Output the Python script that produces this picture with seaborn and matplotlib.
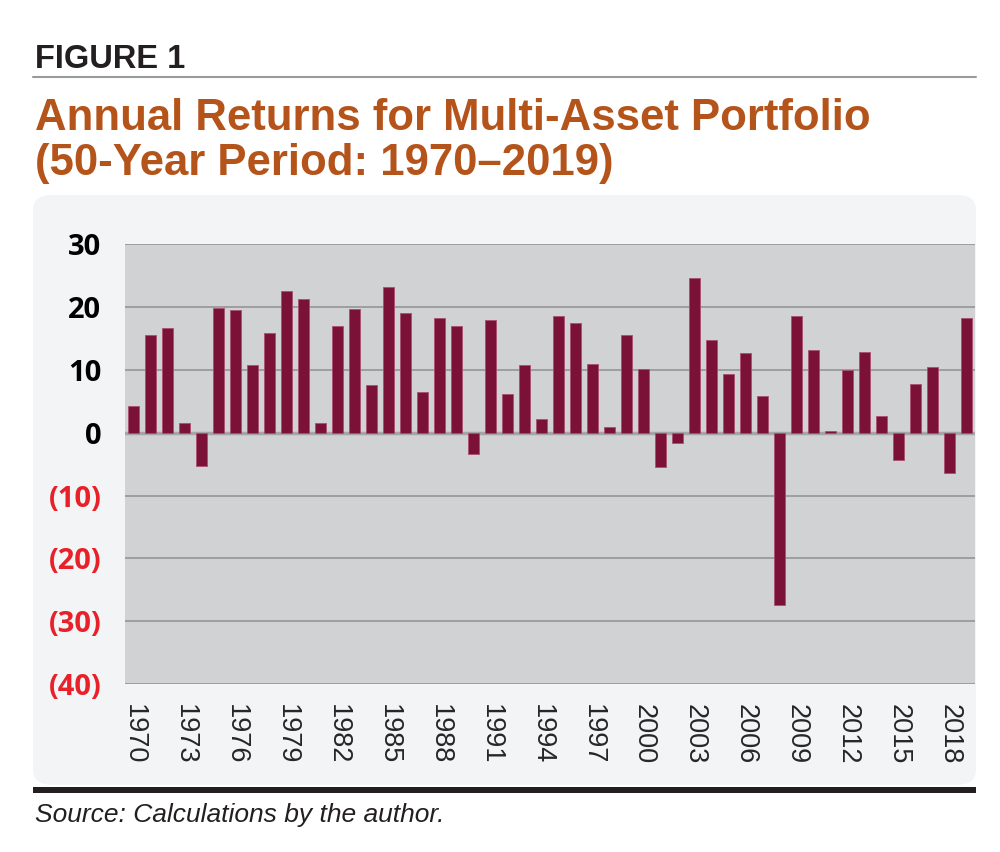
import matplotlib
matplotlib.use("Agg")
import matplotlib.pyplot as plt
from matplotlib.patches import FancyBboxPatch, Rectangle
from matplotlib.lines import Line2D
import seaborn as sns

# ----------------------------
# DATA
# ----------------------------
years = list(range(1970, 2020))
returns = [4.3, 15.5, 16.7, 1.5, -5.3, 19.8, 19.5, 10.7, 15.9, 22.6,
           21.3, 1.5, 16.9, 19.6, 7.6, 23.2, 19.1, 6.5, 18.2, 17.0,
           -3.4, 17.9, 6.2, 10.7, 2.2, 18.6, 17.4, 10.9, 0.9, 15.5,
           10.1, -5.5, -1.7, 24.6, 14.7, 9.4, 12.7, 5.8, -27.4, 18.6,
           13.1, 0.3, 9.9, 12.8, 2.6, -4.4, 7.7, 10.5, -6.4, 18.2]
y_ticks = [30, 20, 10, 0, -10, -20, -30, -40]
y_labels = ["30", "20", "10", "0", "(10)", "(20)", "(30)", "(40)"]

BAR = "#7b1136"
TITLE = "#b5541a"
RED = "#e8202a"

sns.set_style("white")
plt.rcParams["font.family"] = ["Liberation Sans", "DejaVu Sans"]

fig = plt.figure(figsize=(10, 8.52), dpi=100)
fig.patch.set_facecolor("white")

# light panel behind the chart
panel = FancyBboxPatch((0.033, 0.079), 0.943, 0.692,
                       boxstyle="round,pad=0,rounding_size=0.018",
                       transform=fig.transFigure, facecolor="#f3f4f6",
                       edgecolor="none", zorder=-10)
fig.patches.append(panel)
fig.patches.append(Rectangle((0.033, 0.069), 0.943, 0.0075,
                             transform=fig.transFigure, facecolor="#231f20",
                             edgecolor="none", zorder=-5))
fig.lines.append(Line2D([0.033, 0.976], [0.9096, 0.9096],
                        transform=fig.transFigure, color="#9a9a9a", lw=1.5))

ax = fig.add_axes([0.125, 0.197, 0.85, 0.5166])
ax.set_zorder(5)
ax.set_facecolor("#d1d2d4")

sns.barplot(x=years, y=returns, color=BAR, width=0.6, saturation=1,
            edgecolor="#a8506e", linewidth=0.6, ax=ax, zorder=3)

ax.set_ylim(-40, 30)
ax.set_xlim(-0.5, len(years) - 0.5)
ax.set_yticks(y_ticks)
ax.set_yticklabels(y_labels, fontsize=21, fontweight="bold",
                   family=["Open Sans", "DejaVu Sans"])
for lab, v in zip(ax.get_yticklabels(), y_ticks):
    lab.set_color(RED if v < 0 else "black")
ax.tick_params(axis="y", length=0, pad=17)

ax.set_xticks(range(0, len(years), 3))
ax.set_xticklabels([str(y) for y in years[::3]], rotation=270, fontsize=19.5,
                   family=["Liberation Sans Narrow", "Liberation Sans"])
ax.tick_params(axis="x", length=0, pad=14)

for v in y_ticks:
    ax.axhline(v, color="#9a9a9a", lw=1.3, zorder=1)
ax.axhline(0, color="#a5a5a5", lw=2.5, zorder=2)
for s in ax.spines.values():
    s.set_visible(False)

# texts
fig.text(0.035, 0.92, "FIGURE 1", fontsize=23.5, fontweight="bold",
         color="#231f20")
fig.text(0.035, 0.848, "Annual Returns for Multi-Asset Portfolio",
         fontsize=31.5, fontweight="bold", color=TITLE)
fig.text(0.035, 0.795, "(50-Year Period: 1970\u20132019)",
         fontsize=31.5, fontweight="bold", color=TITLE)
fig.text(0.035, 0.035, "Source: Calculations by the author.", fontsize=19,
         style="italic", color="#231f20",
         family=["Liberation Sans Narrow", "Liberation Sans"])

fig.savefig("out.png", dpi=100)
